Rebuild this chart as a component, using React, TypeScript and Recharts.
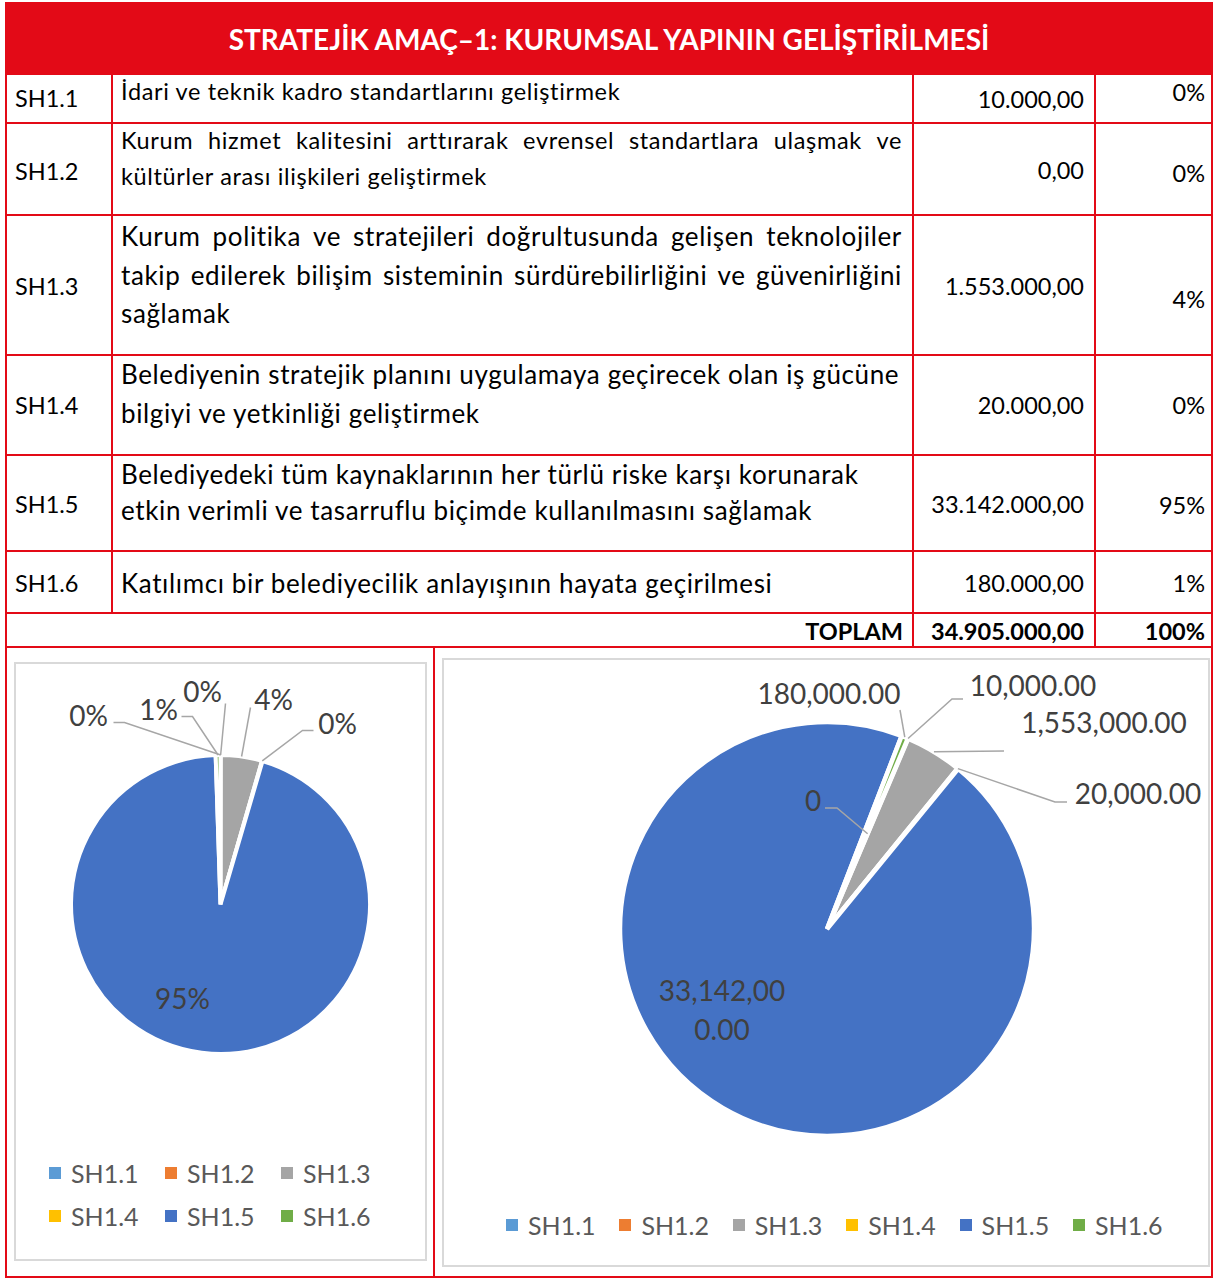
import React from 'react';
import { PieChart, Pie, Cell, Legend } from 'recharts';

// ---------- DATA ----------
const title = 'STRATEJİK AMAÇ–1: KURUMSAL YAPININ GELİŞTİRİLMESİ';
const totalLabel = 'TOPLAM';
const codes = ['SH1.1', 'SH1.2', 'SH1.3', 'SH1.4', 'SH1.5', 'SH1.6'];
const descriptions: string[][] = [
  ['İdari ve teknik kadro standartlarını geliştirmek'],
  ['Kurum hizmet kalitesini arttırarak evrensel standartlara ulaşmak ve', 'kültürler arası ilişkileri geliştirmek'],
  [
    'Kurum politika ve stratejileri doğrultusunda gelişen teknolojiler',
    'takip edilerek bilişim sisteminin sürdürebilirliğini ve güvenirliğini',
    'sağlamak',
  ],
  ['Belediyenin stratejik planını uygulamaya geçirecek olan iş gücüne', 'bilgiyi ve yetkinliği geliştirmek'],
  ['Belediyedeki tüm kaynaklarının her türlü riske karşı korunarak', 'etkin verimli ve tasarruflu biçimde kullanılmasını sağlamak'],
  ['Katılımcı bir belediyecilik anlayışının hayata geçirilmesi'],
];
const amounts = [10000, 0, 1553000, 20000, 33142000, 180000];
const sliceColors = ['#5B9BD5', '#ED7D31', '#A5A5A5', '#FFC000', '#4472C4', '#70AD47'];

// ---------- HELPERS ----------
const total = amounts.reduce((a, b) => a + b, 0);
const group = (s: string, sep: string) => s.replace(/\B(?=(\d{3})+(?!\d))/g, sep);
const formatTR = (v: number) => {
  const [i, d] = v.toFixed(2).split('.');
  return group(i, '.') + ',' + d;
};
const formatEN = (v: number) => {
  if (v === 0) return '0';
  const [i, d] = v.toFixed(2).split('.');
  return group(i, ',') + '.' + d;
};
const pctText = (v: number) => Math.round((v / total) * 100) + '%';
const pieData = codes.map((c, i) => ({ name: c, value: amounts[i] }));

const RED = '#E30A17';
const FONT = 'Lato, "Open Sans", sans-serif';
const LABEL_COLOR = '#404040';
const LEGEND_COLOR = '#595959';
const LEADER = '#A6A6A6';

// ---------- TABLE LAYOUT ----------
const headerTop = 2;
const headerBottom = 75;
const rowLines = [123, 215, 355, 455, 551, 613, 647];
const colX = [5, 112, 913, 1095, 1213];
const rowLayout = [
  { first: 91, gap: 0, code: 98, amount: 99, pct: 92, size: 23.5, ls: 0.65, justify: false },
  { first: 140, gap: 36, code: 171, amount: 170, pct: 173, size: 23.5, ls: 0.65, justify: true },
  { first: 236, gap: 38.5, code: 286, amount: 286, pct: 299, size: 26, ls: 0.63, justify: true },
  { first: 374, gap: 39, code: 405, amount: 405, pct: 405, size: 26, ls: 0.63, justify: false },
  { first: 474, gap: 36, code: 504, amount: 504, pct: 505, size: 26, ls: 0.63, justify: false },
  { first: 583, gap: 0, code: 583, amount: 583, pct: 583, size: 26, ls: 0.63, justify: false },
];
const totalY = 631;

const Line = ({ x, y, w, h }: { x: number; y: number; w: number; h: number }) => (
  <div style={{ position: 'absolute', left: x, top: y, width: w, height: h, background: RED }} />
);

const TextAt = ({
  x, y, size, bold, align, ls, children,
}: { x: number; y: number; size: number; bold?: boolean; align: 'left' | 'right'; ls?: number; children: React.ReactNode }) => {
  const st: React.CSSProperties = {
    position: 'absolute',
    top: y - 20,
    height: 40,
    lineHeight: '40px',
    fontSize: size,
    fontWeight: bold ? 700 : 400,
    letterSpacing: ls ?? 0,
    whiteSpace: 'nowrap',
    color: '#000',
  };
  if (align === 'left') st.left = x;
  else st.right = 1215 - x;
  return <div style={st}>{children}</div>;
};

const JustifiedLine = ({ x, y, w, size, ls, text }: { x: number; y: number; w: number; size: number; ls: number; text: string }) => (
  <div
    style={{
      position: 'absolute', left: x, top: y - 20, width: w, height: 40, lineHeight: '40px',
      fontSize: size, letterSpacing: ls, display: 'flex', justifyContent: 'space-between', whiteSpace: 'nowrap', color: '#000',
    }}
  >
    {text.split(' ').map((wd, k) => (
      <span key={k}>{wd}</span>
    ))}
  </div>
);

// ---------- PIE LABEL LAYOUTS (offsets from pie centre) ----------
type LabelCfg = { tx: number; ty: number; pts: number[][] | null; anchor?: number; gap?: number; wrapAt?: number };
const leftLabelLayout: LabelCfg[] = [
  { tx: -18, ty: -214, pts: [[5, -201]] },
  { tx: -132, ty: -190, pts: [[-96, -182], [-107, -182]] },
  { tx: 53, ty: -206, pts: [[30, -197]] },
  { tx: 117, ty: -182, pts: [[82, -174], [93, -174]] },
  { tx: -38, ty: 93, pts: null },
  { tx: -62, ty: -196, pts: [[-28, -188], [-39, -188]] },
];
const rightLabelLayout: LabelCfg[] = [
  { tx: 206, ty: -244, pts: [[125, -230], [136, -230]] },
  { tx: -14, ty: -129, anchor: 0.5, pts: [[10, -121], [-2, -121]] },
  { tx: 277, ty: -207, pts: [[177, -178]] },
  { tx: 311, ty: -136, pts: [[228, -127], [240, -127]] },
  { tx: -105, ty: 61, pts: null, gap: 39, wrapAt: 9 },
  { tx: 2, ty: -236, pts: [[73, -219]] },
];

const leftLabelText = (i: number) => [pctText(amounts[i])];
const rightLabelText = (i: number) => {
  const t = formatEN(amounts[i]);
  const w = rightLabelLayout[i].wrapAt;
  return w ? [t.slice(0, w), t.slice(w)] : [t];
};

const makeLabel = (layout: LabelCfg[], textFor: (i: number) => string[], fontSize: number) => (props: any) => {
  const { cx, cy, midAngle, outerRadius, index } = props;
  const cfg = layout[index];
  if (!cfg) return null;
  const RAD = Math.PI / 180;
  const r = outerRadius * (cfg.anchor ?? 1);
  const sx = cx + r * Math.cos(-midAngle * RAD);
  const sy = cy + r * Math.sin(-midAngle * RAD);
  const lines = textFor(index);
  return (
    <g key={`lbl-${index}`}>
      {cfg.pts && (
        <polyline
          points={[[sx, sy], ...cfg.pts.map(([x, y]) => [cx + x, cy + y])].map((p) => p.join(',')).join(' ')}
          fill="none"
          stroke={LEADER}
          strokeWidth={1.5}
        />
      )}
      {lines.map((t, k) => (
        <text
          key={k}
          x={cx + cfg.tx}
          y={cy + cfg.ty + k * (cfg.gap ?? 0)}
          textAnchor="middle"
          dominantBaseline="central"
          fill={LABEL_COLOR}
          fontSize={fontSize}
          fontFamily={FONT}
        >
          {t}
        </text>
      ))}
    </g>
  );
};

// ---------- LEGENDS ----------
const LegendItem = ({ x, y, i }: { x: number; y: number; i: number }) => (
  <div style={{ position: 'absolute', left: x, top: y - 15, height: 30, display: 'flex', alignItems: 'center' }}>
    <div style={{ width: 12, height: 12, background: sliceColors[i], marginRight: 10 }} />
    <span style={{ fontSize: 25, color: LEGEND_COLOR, fontFamily: FONT, lineHeight: '30px' }}>{codes[i]}</span>
  </div>
);

const LeftLegend = () => (
  <div style={{ position: 'relative', width: 412, height: 90 }}>
    {codes.map((_, i) => (
      <LegendItem key={i} i={i} x={35 + (i % 3) * 116} y={20 + Math.floor(i / 3) * 43} />
    ))}
  </div>
);

const RightLegend = () => (
  <div style={{ position: 'relative', width: 767, height: 60 }}>
    {codes.map((_, i) => (
      <LegendItem key={i} i={i} x={63 + i * 113.4} y={26} />
    ))}
  </div>
);

// ---------- APP ----------
export default function App() {
  return (
    <div
      style={{
        position: 'absolute', left: 0, top: 0, width: 1215, height: 1280, background: '#fff',
        fontFamily: FONT, overflow: 'hidden',
      }}
    >
      {/* header band */}
      <div
        style={{
          position: 'absolute', left: colX[0], top: headerTop, width: colX[4] - colX[0], height: headerBottom - headerTop,
          background: RED, color: '#fff', fontWeight: 700, fontSize: 28, display: 'flex',
          alignItems: 'center', justifyContent: 'center',
        }}
      >
        {title}
      </div>

      {/* outer frame */}
      <Line x={colX[0]} y={headerTop} w={2} h={1278 - headerTop} />
      <Line x={colX[4] - 2} y={headerTop} w={2} h={1278 - headerTop} />
      <Line x={colX[0]} y={1276} w={colX[4] - colX[0]} h={2} />
      {rowLines.map((y) => (
        <Line key={y} x={colX[0]} y={y - 1} w={colX[4] - colX[0]} h={2} />
      ))}
      <Line x={colX[1] - 1} y={headerBottom} w={2} h={613 - headerBottom} />
      <Line x={colX[2] - 1} y={headerBottom} w={2} h={647 - headerBottom} />
      <Line x={colX[3] - 1} y={headerBottom} w={2} h={647 - headerBottom} />
      <Line x={433} y={647} w={2} h={1278 - 647} />

      {/* rows */}
      {codes.map((c, i) => {
        const L = rowLayout[i];
        const lines = descriptions[i];
        return (
          <React.Fragment key={c}>
            <TextAt x={15} y={L.code} size={23.5} align="left">{c}</TextAt>
            {lines.map((t, k) =>
              L.justify && k < lines.length - 1 ? (
                <JustifiedLine key={k} x={121} y={L.first + k * L.gap} w={781} size={L.size} ls={L.ls} text={t} />
              ) : (
                <TextAt key={k} x={121} y={L.first + k * L.gap} size={L.size} ls={L.ls} align="left">{t}</TextAt>
              )
            )}
            <TextAt x={1084} y={L.amount} size={23.5} align="right">{formatTR(amounts[i])}</TextAt>
            <TextAt x={1205} y={L.pct} size={23.5} align="right">{pctText(amounts[i])}</TextAt>
          </React.Fragment>
        );
      })}
      <TextAt x={903} y={totalY} size={23.5} bold align="right">{totalLabel}</TextAt>
      <TextAt x={1084} y={totalY} size={23.5} bold align="right">{formatTR(total)}</TextAt>
      <TextAt x={1205} y={totalY} size={23.5} bold align="right">{pctText(total)}</TextAt>

      {/* chart frames */}
      <div style={{ position: 'absolute', left: 14, top: 662, width: 413, height: 599, border: '2px solid #D9D9D9', boxSizing: 'border-box' }} />
      <div style={{ position: 'absolute', left: 442, top: 658, width: 768, height: 609, border: '2px solid #D9D9D9', boxSizing: 'border-box' }} />

      {/* left pie (percentages) */}
      <div style={{ position: 'absolute', left: 14, top: 663 }}>
        <PieChart width={412} height={597} margin={{ top: 0, right: 0, bottom: 0, left: 0 }}>
          <Pie
            data={pieData}
            dataKey="value"
            nameKey="name"
            cx={206.5}
            cy={241.5}
            outerRadius={149.5}
            startAngle={90}
            endAngle={-270}
            stroke="#fff"
            strokeWidth={4}
            isAnimationActive={false}
            labelLine={false}
            label={makeLabel(leftLabelLayout, leftLabelText, 28)}
          >
            {pieData.map((d, i) => (
              <Cell key={d.name} fill={sliceColors[i]} />
            ))}
          </Pie>
          <Legend
            verticalAlign="bottom"
            content={() => <LeftLegend />}
            wrapperStyle={{ left: 0, top: 490, width: 412, height: 90 }}
          />
        </PieChart>
      </div>

      {/* right pie (amounts) */}
      <div style={{ position: 'absolute', left: 443, top: 659 }}>
        <PieChart width={767} height={607} margin={{ top: 0, right: 0, bottom: 0, left: 0 }}>
          <Pie
            data={pieData}
            dataKey="value"
            nameKey="name"
            cx={384}
            cy={270}
            outerRadius={207}
            startAngle={67}
            endAngle={-293}
            stroke="#fff"
            strokeWidth={4.5}
            isAnimationActive={false}
            labelLine={false}
            label={makeLabel(rightLabelLayout, rightLabelText, 28)}
          >
            {pieData.map((d, i) => (
              <Cell key={d.name} fill={sliceColors[i]} />
            ))}
          </Pie>
          <Legend
            verticalAlign="bottom"
            content={() => <RightLegend />}
            wrapperStyle={{ left: 0, top: 540, width: 767, height: 60 }}
          />
        </PieChart>
      </div>
    </div>
  );
}
